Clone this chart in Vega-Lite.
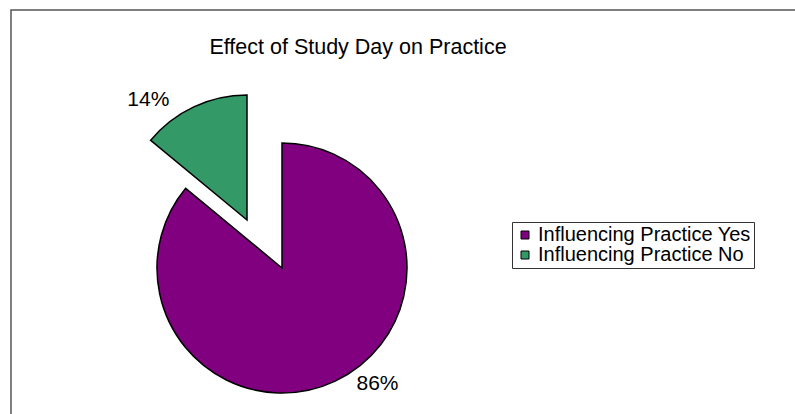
{
  "$schema": "https://vega.github.io/schema/vega-lite/v6.json",
  "autosize": "none",
  "width": 800,
  "height": 420,
  "padding": {"left": 11, "top": 10, "right": 0, "bottom": 0},
  "background": "white",
  "config": {"view": {"stroke": "#555555", "strokeWidth": 1.5}, "font": "Liberation Sans"},
  "title": {"text": "Effect of Study Day on Practice", "anchor": "middle", "frame": "group", "orient": "top", "offset": 0, "baseline": "alphabetic", "dy": 66, "dx": -53, "fontSize": 21.5, "fontWeight": "normal", "color": "black", "font": "Liberation Sans"},
  "data": {"values": [
    {"category": "Influencing Practice Yes", "share": 0.86},
    {"category": "Influencing Practice  No", "share": 0.14}
  ]},
  "transform": [
    {"stack": "share", "groupby": [], "sort": [{"field": "category", "order": "descending"}], "as": ["s0", "s1"]}
  ],
  "layer": [
    {
      "data": {"values": [{"frame": "outer"}]},
      "transform": [],
      "mark": {"type": "rect", "fill": "transparent", "stroke": "#555555", "strokeWidth": 1.5},
      "encoding": {}
    },
    {
      "transform": [{"filter": "datum.category === 'Influencing Practice Yes'"}],
      "mark": {"type": "arc", "x": 271, "y": 258, "outerRadius": 125, "stroke": "black", "strokeWidth": 1.5},
      "encoding": {
        "theta": {"field": "s0", "type": "quantitative", "scale": {"domain": [0, 1]}},
        "theta2": {"field": "s1"},
        "color": {"field": "category", "type": "nominal", "scale": {"domain": ["Influencing Practice Yes", "Influencing Practice  No"], "range": ["#800080", "#339966"]},
          "legend": {"orient": "none", "legendX": 501, "legendY": 212, "title": null, "labelFontSize": 20, "labelFont": "Liberation Sans", "labelColor": "black", "labelLimit": 0, "symbolType": "square", "symbolSize": 64, "symbolStrokeColor": "black", "symbolStrokeWidth": 1, "strokeColor": "#333333", "fillColor": "white", "padding": 3, "rowPadding": -3, "labelOffset": 3}}
      }
    },
    {
      "transform": [{"filter": "datum.category === 'Influencing Practice  No'"}],
      "mark": {"type": "arc", "x": 271, "y": 258, "xOffset": -35, "yOffset": -48, "outerRadius": 125, "stroke": "black", "strokeWidth": 1.5},
      "encoding": {
        "theta": {"field": "s0", "type": "quantitative", "scale": {"domain": [0, 1]}},
        "theta2": {"field": "s1"},
        "color": {"field": "category", "type": "nominal"}
      }
    },
    {
      "mark": {"type": "text", "x": 271, "y": 258, "radius": 128, "dx": 41, "fontSize": 21, "font": "Liberation Sans", "color": "black"},
      "encoding": {
        "theta": {"field": "share", "type": "quantitative", "stack": true, "scale": {"domain": [0, 1]}},
        "order": {"field": "category", "sort": "descending"},
        "text": {"condition": {"test": "datum.category === 'Influencing Practice Yes'", "field": "share", "type": "quantitative", "format": ".0%"}, "value": ""}
      }
    },
    {
      "mark": {"type": "text", "x": 271, "y": 258, "xOffset": -35, "yOffset": -48, "radius": 133, "dx": -42, "fontSize": 21, "font": "Liberation Sans", "color": "black"},
      "encoding": {
        "theta": {"field": "share", "type": "quantitative", "stack": true, "scale": {"domain": [0, 1]}},
        "order": {"field": "category", "sort": "descending"},
        "text": {"condition": {"test": "datum.category === 'Influencing Practice  No'", "field": "share", "type": "quantitative", "format": ".0%"}, "value": ""}
      }
    }
  ]
}
